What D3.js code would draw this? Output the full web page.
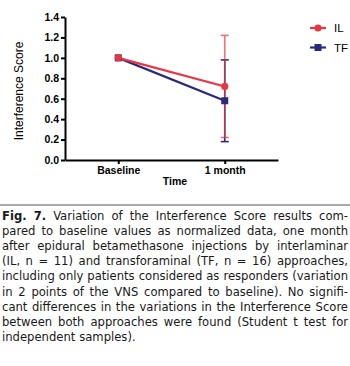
<!DOCTYPE html>
<html>
<head>
<meta charset="utf-8">
<script src="https://cdn.jsdelivr.net/npm/d3@7"></script>
<style>
  html, body { margin: 0; padding: 0; background: #fff; }
  svg { display: block; }
</style>
</head>
<body>
<svg id="chart" width="350" height="366"></svg>
<script>
// ---- data ----
const categories = ["Baseline", "1 month"];
const seriesNames = ["IL", "TF"];
const ilMean = [1.0, 0.72];
const ilLow  = [null, 0.22];
const ilHigh = [null, 1.22];
const tfMean = [1.0, 0.58];
const tfLow  = [null, 0.18];
const tfHigh = [null, 0.98];
const yTicks = [0, 0.2, 0.4, 0.6, 0.8, 1.0, 1.2, 1.4];
const yLabel = "Interference Score";
const xLabel = "Time";
const captionLines = [
  "Fig. 7. Variation of the Interference Score results com-",
  "pared to baseline values as normalized data, one month",
  "after epidural betamethasone injections by interlaminar",
  "(IL, n = 11) and transforaminal (TF, n = 16) approaches,",
  "including only patients considered as responders (variation",
  "in 2 points of the VNS compared to baseline). No signifi-",
  "cant differences in the variations in the Interference Score",
  "between both approaches were found (Student t test for",
  "independent samples)."
];

// ---- chart ----
const svg = d3.select("#chart");
const RED = "#ea3640", NAVY = "#2b2a7a";
const chartFont = "'Liberation Sans', Arial, sans-serif";

const x = d3.scalePoint().domain(categories).range([65, 278]).padding(0.5);
const y = d3.scaleLinear().domain([0, 1.4]).range([160, 17]);

const yAxis = svg.append("g").attr("transform", "translate(65,0)")
  .call(d3.axisLeft(y).tickValues(yTicks).tickFormat(d3.format(".1f")).tickSize(4).tickSizeOuter(0).tickPadding(2));
const xAxis = svg.append("g").attr("transform", "translate(0,160)")
  .call(d3.axisBottom(x).tickSize(4).tickSizeOuter(0).tickPadding(3));
[yAxis, xAxis].forEach(g => {
  g.select(".domain").attr("stroke", "#000").attr("stroke-width", 2);
  g.selectAll(".tick line").attr("stroke", "#000").attr("stroke-width", 2);
  g.selectAll(".tick text").attr("fill", "#000")
    .style("font-family", chartFont).style("font-weight", "bold").style("font-size", "10.5px");
});

svg.append("text").attr("transform", "translate(23,91) rotate(-90)")
  .attr("text-anchor", "middle").style("font-family", chartFont).style("font-size", "12px")
  .text(yLabel);
svg.append("text").attr("x", 175).attr("y", 185).attr("text-anchor", "middle")
  .style("font-family", chartFont).style("font-size", "10.5px").style("font-weight", "bold")
  .text(xLabel);

const line = d3.line().x((d, i) => x(categories[i])).y(d => y(d));

// TF series
svg.append("path").datum(tfMean).attr("d", line).attr("fill", "none")
  .attr("stroke", NAVY).attr("stroke-width", 2.2);
// IL series
svg.append("path").datum(ilMean).attr("d", line).attr("fill", "none")
  .attr("stroke", RED).attr("stroke-width", 2.2);

function errorBars(lo, hi, color, op) {
  const g = svg.append("g").attr("stroke", color).attr("stroke-width", 1.6).attr("opacity", op);
  categories.forEach((c, i) => {
    if (lo[i] == null) return;
    const cx = x(c);
    g.append("line").attr("x1", cx).attr("x2", cx).attr("y1", y(lo[i])).attr("y2", y(hi[i]));
    [lo[i], hi[i]].forEach(v => g.append("line").attr("x1", cx - 4).attr("x2", cx + 4).attr("y1", y(v)).attr("y2", y(v)));
  });
}
errorBars(tfLow, tfHigh, NAVY, 1);
errorBars(ilLow, ilHigh, RED, 0.7);

// markers
svg.append("g").selectAll("rect").data(tfMean).join("rect")
  .attr("x", (d, i) => x(categories[i]) - 3.5).attr("y", d => y(d) - 3.5)
  .attr("width", 7).attr("height", 7).attr("fill", NAVY);
svg.append("g").selectAll("circle").data(ilMean).join("circle")
  .attr("cx", (d, i) => x(categories[i])).attr("cy", d => y(d)).attr("r", 3.6).attr("fill", RED);

// legend
const legend = svg.append("g");
seriesNames.forEach((name, i) => {
  const ly = 28 + i * 19.5;
  const col = i === 0 ? RED : NAVY;
  legend.append("line").attr("x1", 310).attr("x2", 326).attr("y1", ly).attr("y2", ly)
    .attr("stroke", col).attr("stroke-width", 2.2);
  if (i === 0) legend.append("circle").attr("cx", 318).attr("cy", ly).attr("r", 3.6).attr("fill", col);
  else legend.append("rect").attr("x", 314.5).attr("y", ly - 3.5).attr("width", 7).attr("height", 7).attr("fill", col);
  legend.append("text").attr("x", 334).attr("y", ly + 4).style("font-family", chartFont)
    .style("font-size", "11.5px").text(name);
});

// ---- caption ----
svg.append("line").attr("x1", 0).attr("x2", 350).attr("y1", 205).attr("y2", 205)
  .attr("stroke", "#555").attr("stroke-width", 1.2);

const capFont = "'DejaVu Sans Condensed', 'DejaVu Sans', sans-serif";
const capSize = 12.9;
const left = 2, right = 348;
const cap = svg.append("g").attr("fill", "#1a1a1a")
  .style("font-family", capFont).style("font-size", capSize + "px");
captionLines.forEach((ln, li) => {
  const words = ln.split(" ");
  const by = 220 + li * 15.1;
  const nodes = words.map((w, wi) => {
    const t = cap.append("text").attr("y", by).text(w);
    if (li === 0 && wi < 2) t.style("font-weight", "bold");
    return t;
  });
  const widths = nodes.map(n => n.node().getComputedTextLength());
  const total = d3.sum(widths);
  const last = li === captionLines.length - 1;
  const gap = last || words.length < 2 ? capSize * 0.3 : (right - left - total) / (words.length - 1);
  let cx = left;
  nodes.forEach((n, i) => { n.attr("x", cx); cx += widths[i] + gap; });
});
</script>
</body>
</html>
